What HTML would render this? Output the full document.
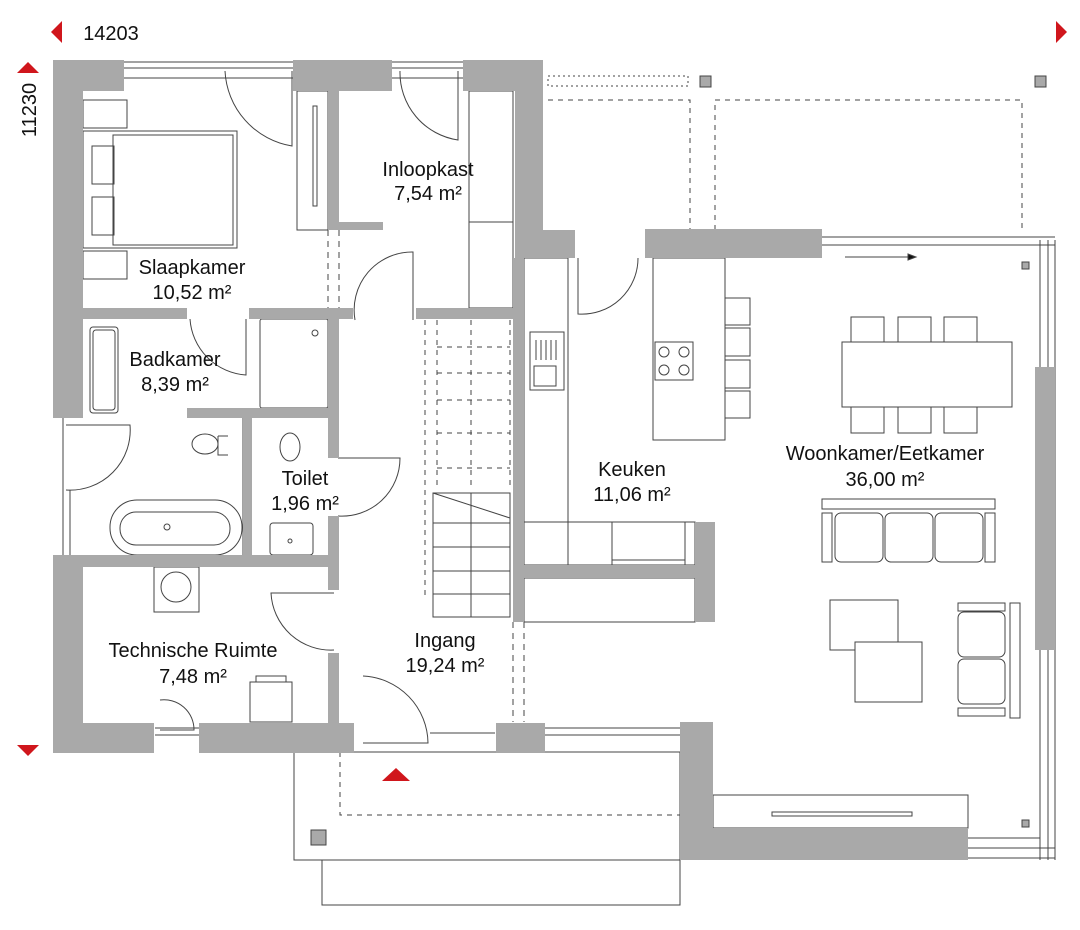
<!DOCTYPE html>
<html><head><meta charset="utf-8"><style>
html,body{margin:0;padding:0;background:#fff;width:1080px;height:930px;overflow:hidden}
svg{display:block}
text{font-family:"Liberation Sans",sans-serif;font-size:20px;fill:#111;text-anchor:middle}
</style></head><body>
<svg width="1080" height="930" viewBox="0 0 1080 930">
<g fill="none" stroke="#444" stroke-width="1">
<rect x="548" y="76" width="140" height="10" stroke-dasharray="2,3"/>
<path d="M548 100H690V230M715 230V100H1022V230" stroke-dasharray="5,5"/>
<rect x="294" y="752" width="386" height="108"/>
<rect x="322" y="860" width="358" height="45"/>
<path d="M340 752V815H680" stroke-dasharray="5,5"/>
<path d="M124 62H293M124 68H293M124 78H293M392 62H463M392 68H463M392 78H463M155 728H200M155 735H200M545 728H680M545 735H680M430 733H495"/>
<path d="M822 237H1055M822 245H1055M1040 240V860M1048 240V860M1055 240V860M713 848H1055M968 858H1055M968 838H1040"/>
<rect x="297" y="91" width="31" height="139"/><rect x="313" y="106" width="4" height="100"/>
<rect x="469" y="91" width="44" height="217"/><path d="M469 222H513"/>
<rect x="83" y="100" width="44" height="28"/><rect x="83" y="251" width="44" height="28"/>
<rect x="83" y="131" width="154" height="117"/><rect x="113" y="135" width="120" height="110"/>
<rect x="92" y="146" width="22" height="38"/><rect x="92" y="197" width="22" height="38"/>
<rect x="90" y="327" width="28" height="86" rx="3"/><rect x="93" y="330" width="22" height="80" rx="3"/>
<rect x="260" y="319" width="68" height="89" rx="2"/><circle cx="315" cy="333" r="3"/>
<rect x="110" y="500" width="132" height="55" rx="27"/><rect x="120" y="512" width="110" height="33" rx="16"/><circle cx="167" cy="527" r="3"/>
<ellipse cx="205" cy="444" rx="13" ry="10"/><path d="M228 436H218M228 455H218V436"/>
<ellipse cx="290" cy="447" rx="10" ry="14"/>
<rect x="270" y="523" width="43" height="32" rx="3"/><circle cx="290" cy="541" r="2"/>
<rect x="154" y="567" width="45" height="45"/><circle cx="176" cy="587" r="15"/>
<rect x="250" y="682" width="42" height="40"/><rect x="256" y="676" width="30" height="6"/>
<path d="M63 418V555M70 490V555M243 418V555"/>
<rect x="433" y="493" width="77" height="124"/>
<path d="M433 523H510M433 547H510M433 571H510M433 594H510M471 493V617M433 493L510 518"/>
<path d="M425 320V598M437 320V490M510 320V490M437 347H510M437 373H510M437 400H510M437 433H510M437 468H510M471 320V490" stroke-dasharray="5,5"/>
<path d="M328 230V308M339 230V308M513 622V722M524 622V722" stroke-dasharray="6,5"/>
<rect x="524" y="258" width="44" height="264"/>
<rect x="530" y="332" width="34" height="58"/><rect x="534" y="366" width="22" height="20"/>
<path d="M536 340V360M541 340V360M546 340V360M551 340V360M556 340V360"/>
<rect x="524" y="522" width="171" height="43"/><path d="M568 522V565M612 522V565M685 522V565M612 560H685"/>
<rect x="524" y="578" width="171" height="44"/>
<rect x="653" y="258" width="72" height="182"/>
<rect x="655" y="342" width="38" height="38"/>
<circle cx="664" cy="352" r="5"/><circle cx="684" cy="352" r="5"/><circle cx="664" cy="370" r="5"/><circle cx="684" cy="370" r="5"/>
<rect x="725" y="298" width="25" height="27"/><rect x="725" y="328" width="25" height="28"/><rect x="725" y="360" width="25" height="28"/><rect x="725" y="391" width="25" height="27"/>
<rect x="842" y="342" width="170" height="65"/>
<rect x="851" y="317" width="33" height="25"/><rect x="898" y="317" width="33" height="25"/><rect x="944" y="317" width="33" height="25"/>
<rect x="851" y="407" width="33" height="26"/><rect x="898" y="407" width="33" height="26"/><rect x="944" y="407" width="33" height="26"/>
<rect x="822" y="499" width="173" height="10"/><rect x="822" y="513" width="10" height="49"/><rect x="985" y="513" width="10" height="49"/>
<rect x="835" y="513" width="48" height="49" rx="6"/><rect x="885" y="513" width="48" height="49" rx="6"/><rect x="935" y="513" width="48" height="49" rx="6"/>
<rect x="830" y="600" width="68" height="50"/><rect x="855" y="642" width="67" height="60" fill="#fff"/>
<rect x="958" y="603" width="47" height="8"/><rect x="958" y="612" width="47" height="45" rx="6"/><rect x="958" y="659" width="47" height="45" rx="6"/><rect x="958" y="708" width="47" height="8"/><rect x="1010" y="603" width="10" height="115"/>
<rect x="713" y="795" width="255" height="33"/><rect x="772" y="812" width="140" height="4"/>
<path d="M845 257H915" /><path d="M908 254L916 257L908 260Z" fill="#111"/>
<path d="M225 71A80 80 0 0 0 292 146V71M400 71A68 68 0 0 0 458 140V71M355 320A58 58 0 0 1 413 252V320M190 319A60 60 0 0 0 246 375V319M578 258V314A56 56 0 0 0 638 258M66 425H130A60 60 0 0 1 66 490M338 458H400A58 58 0 0 1 338 516M334 593H271A60 60 0 0 0 334 650M160 700A30 30 0 0 1 194 730H160M363 676A68 68 0 0 1 428 743H363"/>
</g>
<g fill="#a9a9a9">
<rect x="53" y="60" width="30" height="358"/><rect x="53" y="60" width="71" height="31"/>
<rect x="293" y="60" width="99" height="31"/><rect x="463" y="60" width="80" height="31"/>
<rect x="515" y="60" width="28" height="198"/><rect x="515" y="230" width="60" height="28"/><rect x="513" y="258" width="11" height="364"/>
<rect x="645" y="229" width="177" height="29"/>
<rect x="328" y="91" width="11" height="139"/><rect x="328" y="222" width="55" height="8"/>
<rect x="83" y="308" width="104" height="11"/><rect x="249" y="308" width="104" height="11"/><rect x="416" y="308" width="97" height="11"/>
<rect x="328" y="319" width="11" height="139"/><rect x="187" y="408" width="141" height="10"/>
<rect x="243" y="418" width="9" height="137"/><rect x="328" y="516" width="11" height="74"/>
<rect x="53" y="555" width="286" height="12"/><rect x="53" y="555" width="30" height="198"/>
<rect x="328" y="653" width="11" height="70"/>
<rect x="53" y="723" width="101" height="30"/><rect x="199" y="723" width="155" height="30"/><rect x="496" y="723" width="49" height="30"/>
<rect x="513" y="565" width="202" height="13"/><rect x="695" y="522" width="20" height="100"/>
<rect x="1035" y="367" width="20" height="283"/>
<rect x="680" y="722" width="33" height="138"/><rect x="680" y="828" width="288" height="32"/>
</g>
<g fill="#a9a9a9" stroke="#444">
<rect x="700" y="76" width="11" height="11"/><rect x="1035" y="76" width="11" height="11"/><rect x="1022" y="262" width="7" height="7"/><rect x="1022" y="820" width="7" height="7"/><rect x="311" y="830" width="15" height="15"/>
</g>
<g fill="#d0161c">
<path d="M51 32L62 21V43Z"/><path d="M1067 32L1056 21V43Z"/><path d="M28 62L17 73H39Z"/><path d="M28 756L17 745H39Z"/><path d="M382 781L396 768L410 781Z"/>
</g>
<text x="111" y="40" font-size="22">14203</text>
<text transform="translate(36,110) rotate(-90)" font-size="22">11230</text>
<text x="192" y="274">Slaapkamer</text><text x="192" y="299">10,52 m²</text>
<text x="428" y="176">Inloopkast</text><text x="428" y="200">7,54 m²</text>
<text x="175" y="366">Badkamer</text><text x="175" y="391">8,39 m²</text>
<text x="305" y="485">Toilet</text><text x="305" y="510">1,96 m²</text>
<text x="632" y="476">Keuken</text><text x="632" y="501">11,06 m²</text>
<text x="885" y="460">Woonkamer/Eetkamer</text><text x="885" y="486">36,00 m²</text>
<text x="193" y="657">Technische Ruimte</text><text x="193" y="683">7,48 m²</text>
<text x="445" y="647">Ingang</text><text x="445" y="672">19,24 m²</text>
</svg>
</body></html>
